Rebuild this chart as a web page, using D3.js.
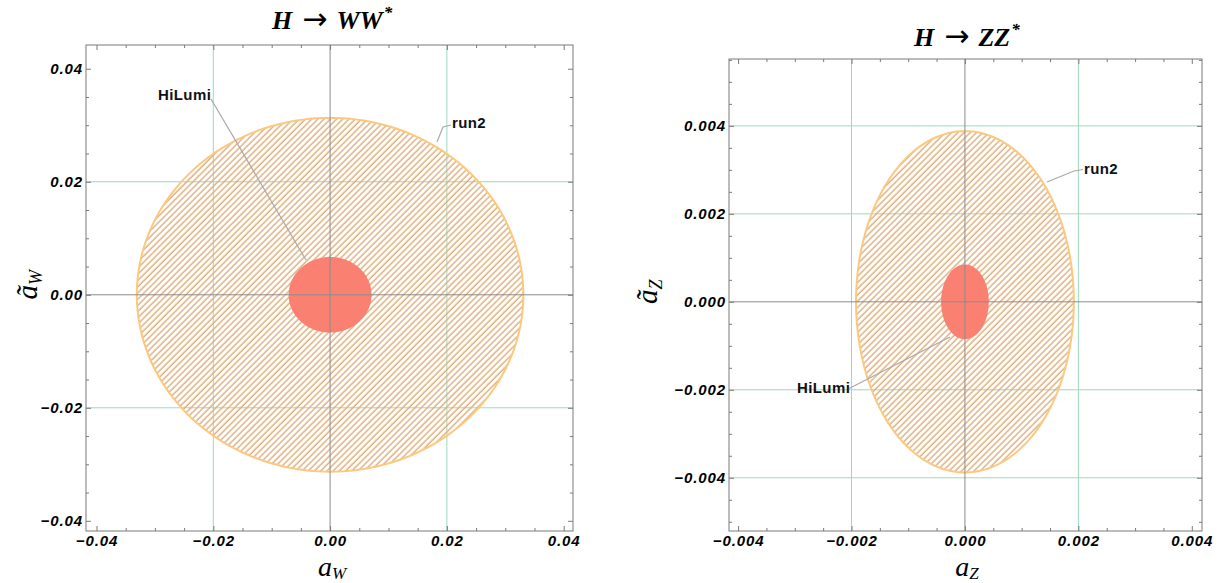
<!DOCTYPE html>
<html><head><meta charset="utf-8">
<script src="https://cdn.jsdelivr.net/npm/d3@7"></script>
<style>body{margin:0;background:#fff}</style>
</head><body>
<svg id="c" width="1220" height="583" xmlns="http://www.w3.org/2000/svg"></svg>
<script>
// ---------------- data ----------------
// H -> WW*
const wwMajorTicks = [-0.04, -0.02, 0, 0.02, 0.04];
const wwTickLabels = ["\u22120.04", "\u22120.02", "0.00", "0.02", "0.04"];
const wwMinorTicks = [-0.035, -0.03, -0.025, -0.015, -0.01, -0.005, 0.005, 0.01, 0.015, 0.025, 0.03, 0.035];
const wwGridX = [-0.02, 0.02];
const wwGridY = [-0.02, 0.02];
const wwRun2 = [0.0331, 0.0313];     // semi-axes (a_W, ã_W)
const wwHiLumi = [0.0071, 0.0067];   // semi-axes (a_W, ã_W)

// H -> ZZ*
const zzMajorTicks = [-0.004, -0.002, 0, 0.002, 0.004];
const zzTickLabels = ["\u22120.004", "\u22120.002", "0.000", "0.002", "0.004"];
const zzMinorX = [-0.0035, -0.003, -0.0025, -0.0015, -0.001, -0.0005, 0.0005, 0.001, 0.0015, 0.0025, 0.003, 0.0035];
const zzMinorY = [-0.005, -0.0045, -0.0035, -0.003, -0.0025, -0.0015, -0.001, -0.0005, 0.0005, 0.001, 0.0015, 0.0025, 0.003, 0.0035, 0.0045, 0.005, 0.0055];
const zzGridX = [-0.002, 0.002];
const zzGridY = [-0.004, -0.002, 0.002, 0.004];
const zzRun2 = [0.00192, 0.00388];
const zzHiLumi = [0.00042, 0.00085];

// ---------------- layout ----------------
const svg = d3.select("#c");
const defs = svg.append("defs");
const pat = defs.append("pattern").attr("id", "hatch")
  .attr("patternUnits", "userSpaceOnUse").attr("width", 4.4).attr("height", 10)
  .attr("patternTransform", "rotate(45)");
pat.append("line").attr("x1", 1).attr("x2", 1).attr("y1", 0).attr("y2", 10)
  .attr("stroke", "#e0ad78").attr("stroke-width", 1.4);

const GREEN = "#9dd9bf", AXIS = "#8c8c8c", FRAME = "#7a7a7a";
const tickFont = "Liberation Sans, Arial, sans-serif";
const serif = "Liberation Serif, Times New Roman, serif";

const panels = [
  {
    title: ["H", "\u2192", "WW", "*"], titleY: 29,
    xDom: [-0.0418, 0.0416], xR: [86, 573], yDom: [-0.0418, 0.0442], yR: [531, 45],
    major: wwMajorTicks, labels: wwTickLabels, minorX: wwMinorTicks, minorY: wwMinorTicks,
    gridX: wwGridX, gridY: wwGridY, run2: wwRun2, hilumi: wwHiLumi, sub: "W",
    yLabelX: 28,
    callouts: [
      { text: "HiLumi", at: [-0.02947, 0.03447], path: [[-0.02039, 0.03464], [-0.00413, 0.00615]] },
      { text: "run2", at: [0.02088, 0.02951], path: [[0.02071, 0.03004], [0.01934, 0.02969], [0.01831, 0.02703]] }
    ]
  },
  {
    title: ["H", "\u2192", "ZZ", "*"], titleY: 46,
    xDom: [-0.00416, 0.00418], xR: [729, 1202], yDom: [-0.00521, 0.00552], yR: [531, 59],
    major: zzMajorTicks, labels: zzTickLabels, minorX: zzMinorX, minorY: zzMinorY,
    gridX: zzGridX, gridY: zzGridY, run2: zzRun2, hilumi: zzHiLumi, sub: "Z",
    yLabelX: 648,
    callouts: [
      { text: "run2", at: [0.002099, 0.002906], path: [[0.002082, 0.003008], [0.001923, 0.002974], [0.001447, 0.002724]] },
      { text: "HiLumi", at: [-0.002961, -0.002073], path: [[-0.002044, -0.00197], [-0.000263, -0.0008]] }
    ]
  }
];

panels.forEach(p => {
  const x = d3.scaleLinear().domain(p.xDom).range(p.xR);
  const y = d3.scaleLinear().domain(p.yDom).range(p.yR);
  const g = svg.append("g");
  const [x0, x1] = p.xR, [y1, y0] = p.yR;

  // gridlines
  g.selectAll(".gx").data(p.gridX).join("line")
    .attr("x1", d => x(d)).attr("x2", d => x(d)).attr("y1", y0).attr("y2", y1)
    .attr("stroke", GREEN).attr("stroke-width", 1);
  g.selectAll(".gy").data(p.gridY).join("line").attr("class", "gy")
    .attr("y1", d => y(d)).attr("y2", d => y(d)).attr("x1", x0).attr("x2", x1)
    .attr("stroke", GREEN).attr("stroke-width", 1);

  // ellipses
  const ell = (ax, ay) => {
    const ts = d3.range(0, 361, 2).map(t => t * Math.PI / 180);
    return d3.line().x(t => x(ax * Math.cos(t))).y(t => y(ay * Math.sin(t)))(ts) + "Z";
  };
  g.append("path").attr("d", ell(p.run2[0], p.run2[1]))
    .attr("fill", "url(#hatch)").attr("stroke", "#fcc880").attr("stroke-width", 2);
  g.append("path").attr("d", ell(p.hilumi[0], p.hilumi[1]))
    .attr("fill", "#fa8072").attr("stroke", "none");

  // zero axes
  g.append("line").attr("x1", x(0)).attr("x2", x(0)).attr("y1", y0).attr("y2", y1)
    .attr("stroke", AXIS).attr("stroke-width", 1);
  g.append("line").attr("y1", y(0)).attr("y2", y(0)).attr("x1", x0).attr("x2", x1)
    .attr("stroke", AXIS).attr("stroke-width", 1);

  // callouts
  p.callouts.forEach(c => {
    g.append("path").attr("d", d3.line().x(d => x(d[0])).y(d => y(d[1]))(c.path))
      .attr("fill", "none").attr("stroke", "#a9a9a9").attr("stroke-width", 1.2);
    g.append("text").attr("x", x(c.at[0])).attr("y", y(c.at[1]))
      .attr("font-family", tickFont).attr("font-weight", "bold").attr("font-size", 15)
      .attr("letter-spacing", 0.4).attr("fill", "#111").text(c.text);
  });

  // axes
  const fmt = (d) => p.labels[p.major.indexOf(d)];
  const style = sel => {
    sel.select(".domain").remove();
    sel.selectAll("line").attr("stroke", FRAME);
    sel.selectAll("text").attr("font-family", tickFont).attr("font-weight", "bold")
      .attr("font-style", "italic").attr("font-size", 15).attr("letter-spacing", 0.9).attr("fill", "#000");
  };
  g.append("g").attr("transform", `translate(0,${y1})`)
    .call(d3.axisBottom(x).tickValues(p.major).tickFormat(fmt).tickSizeInner(-5).tickSizeOuter(0).tickPadding(4)).call(style);
  g.append("g").attr("transform", `translate(0,${y1})`)
    .call(d3.axisBottom(x).tickValues(p.minorX).tickFormat("").tickSizeInner(-3).tickSizeOuter(0)).call(style);
  g.append("g").attr("transform", `translate(0,${y0})`)
    .call(d3.axisTop(x).tickValues(p.major).tickFormat("").tickSizeInner(-5).tickSizeOuter(0)).call(style);
  g.append("g").attr("transform", `translate(0,${y0})`)
    .call(d3.axisTop(x).tickValues(p.minorX).tickFormat("").tickSizeInner(-3).tickSizeOuter(0)).call(style);
  g.append("g").attr("transform", `translate(${x0},0)`)
    .call(d3.axisLeft(y).tickValues(p.major).tickFormat(fmt).tickSizeInner(-5).tickSizeOuter(0).tickPadding(3)).call(style);
  g.append("g").attr("transform", `translate(${x0},0)`)
    .call(d3.axisLeft(y).tickValues(p.minorY).tickFormat("").tickSizeInner(-3).tickSizeOuter(0)).call(style);
  g.append("g").attr("transform", `translate(${x1},0)`)
    .call(d3.axisRight(y).tickValues(p.major).tickFormat("").tickSizeInner(-5).tickSizeOuter(0)).call(style);
  g.append("g").attr("transform", `translate(${x1},0)`)
    .call(d3.axisRight(y).tickValues(p.minorY).tickFormat("").tickSizeInner(-3).tickSizeOuter(0)).call(style);

  // frame
  g.append("rect").attr("x", x0).attr("y", y0).attr("width", x1 - x0).attr("height", y1 - y0)
    .attr("fill", "none").attr("stroke", FRAME).attr("stroke-width", 1);

  // title
  const cx = x(0);
  const t = g.append("text").attr("x", cx + 2).attr("y", p.titleY).attr("text-anchor", "middle")
    .attr("font-family", serif).attr("font-style", "italic").attr("font-weight", "bold")
    .attr("font-size", 26).attr("fill", "#000");
  t.append("tspan").text(p.title[0]);
  t.append("tspan").attr("dx", 10).attr("dy", 0).attr("font-family", "DejaVu Sans")
    .attr("font-style", "normal").attr("font-weight", "normal").attr("font-size", 30).text(p.title[1]);
  t.append("tspan").attr("dx", 9).text(p.title[2]);
  t.append("tspan").attr("dx", 1).attr("dy", -11).attr("font-size", 17).text(p.title[3]);

  // x label
  const xl = g.append("text").attr("x", cx + 2).attr("y", 576).attr("text-anchor", "middle")
    .attr("font-family", serif).attr("font-style", "italic")
    .attr("font-size", 28).attr("fill", "#000");
  xl.append("tspan").text("a");
  xl.append("tspan").attr("dy", 3).attr("font-size", 17).text(p.sub);

  // y label (rotated)
  const yc = y(0) - 10;
  const yl = g.append("text").attr("transform", `translate(${p.yLabelX + 9},${yc}) rotate(-90)`)
    .attr("text-anchor", "middle")
    .attr("font-family", serif).attr("font-style", "italic")
    .attr("font-size", 29).attr("fill", "#000");
  yl.append("tspan").text("\u00e3");
  yl.append("tspan").attr("dy", 5).attr("font-size", 18).text(p.sub);
});
</script>
</body></html>
